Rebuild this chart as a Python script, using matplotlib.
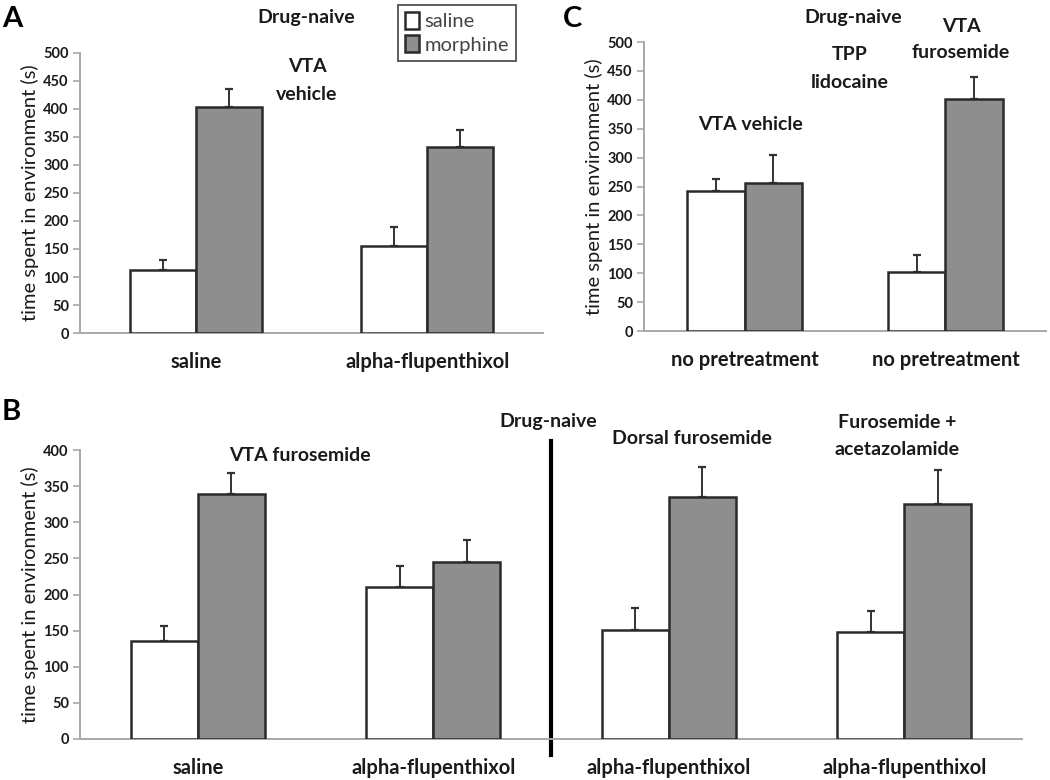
import matplotlib
matplotlib.use('Agg')
import matplotlib.pyplot as plt
import numpy as np

plt.rcParams['font.family'] = ['Lato', 'DejaVu Sans']

# panel A
a_cats = ['saline', 'alpha-flupenthixol']
a_saline = [113, 155]
a_saline_err = [17, 34]
a_morph = [403, 332]
a_morph_err = [32, 31]

# panel C
c_cats = ['no pretreatment', 'no pretreatment']
c_saline = [242, 102]
c_saline_err = [21, 30]
c_morph = [256, 402]
c_morph_err = [48, 37]

# panel B
b_cats = ['saline', 'alpha-flupenthixol', 'alpha-flupenthixol', 'alpha-flupenthixol']
b_saline = [135, 211, 151, 148]
b_saline_err = [22, 29, 31, 29]
b_morph = [339, 245, 335, 325]
b_morph_err = [29, 31, 41, 48]

W, H = 1050, 780
GREY = '#8e8e8e'
AXC = '#a8a8a8'


def px(x, y):
    return x / W, 1 - y / H


def box(l, t, r, b):
    return [l / W, 1 - b / H, (r - l) / W, (b - t) / H]


def draw_panel(ax, cats, sal, sal_err, mor, mor_err, ymax, step):
    x = np.arange(len(cats))
    bw = 0.285
    b1 = ax.bar(x - bw / 2, sal, bw, color='white', edgecolor='#2a2a2a',
                linewidth=1.8, label='saline', zorder=3)
    b2 = ax.bar(x + bw / 2, mor, bw, color=GREY, edgecolor='#2a2a2a',
                linewidth=1.8, label='morphine', zorder=3)
    ax.errorbar(x - bw / 2, sal, yerr=[np.zeros(len(sal)), sal_err], fmt='none',
                ecolor='#333333', elinewidth=1.4, capsize=3, capthick=1.6, zorder=2)
    ax.errorbar(x + bw / 2, mor, yerr=[np.zeros(len(mor)), mor_err], fmt='none',
                ecolor='#333333', elinewidth=1.4, capsize=3, capthick=1.6, zorder=2)

    ax.set_xlim(-0.5, len(cats) - 0.5)
    ax.set_ylim(0, ymax)
    ax.set_yticks(np.arange(0, ymax + 1, step))
    ax.set_xticks(x)
    ax.set_xticklabels(cats, fontsize=14.5, fontweight='bold', color='#1a1a1a')
    ax.tick_params(axis='x', length=0, pad=14)
    ax.tick_params(axis='y', length=5, width=1.2, color=AXC, pad=3,
                   labelsize=10.5, labelcolor='#1a1a1a')
    for t in ax.get_yticklabels():
        t.set_fontweight('bold')
    for s in ['top', 'right']:
        ax.spines[s].set_visible(False)
    for s in ['left', 'bottom']:
        ax.spines[s].set_color(AXC)
        ax.spines[s].set_linewidth(1.4)
    ax.set_ylabel('time spent in environment (s)', fontsize=14.5, color='#1a1a1a',
                  labelpad=3)
    return b1, b2


fig = plt.figure(figsize=(W / 100, H / 100), dpi=100)

ax_a = fig.add_axes(box(80, 53, 543, 333))
ax_c = fig.add_axes(box(644, 42, 1046, 331))
ax_b = fig.add_axes(box(80, 450, 1022, 739))

h1, h2 = draw_panel(ax_a, a_cats, a_saline, a_saline_err, a_morph, a_morph_err, 500, 50)
draw_panel(ax_c, c_cats, c_saline, c_saline_err, c_morph, c_morph_err, 500, 50)
draw_panel(ax_b, b_cats, b_saline, b_saline_err, b_morph, b_morph_err, 400, 50)

# separator in panel B
ax_b.plot([1.5, 1.5], [-22, 413], color='black', linewidth=3, clip_on=False)

# panel letters
fig.text(*px(2, 19), 'A', fontsize=21, fontweight='bold', va='center')
fig.text(*px(2, 412), 'B', fontsize=21, fontweight='bold', va='center')
fig.text(*px(563, 19), 'C', fontsize=21, fontweight='bold', va='center')

ann = dict(fontsize=14, fontweight='bold', ha='center', va='center', color='#1a1a1a')
fig.text(*px(306, 18), 'Drug-naive', **ann)
fig.text(*px(307, 67), 'VTA', **ann)
fig.text(*px(307, 95), 'vehicle', **ann)

fig.text(*px(853, 17), 'Drug-naive', **ann)
fig.text(*px(850, 55), 'TPP', **ann)
fig.text(*px(850, 82), 'lidocaine', **ann)
fig.text(*px(961, 26), 'VTA', **ann)
fig.text(*px(961, 53), 'furosemide', **ann)
fig.text(*px(750, 125), 'VTA vehicle', **ann)

fig.text(*px(548, 422), 'Drug-naive', **ann)
fig.text(*px(300, 455), 'VTA furosemide', **ann)
fig.text(*px(692, 438), 'Dorsal furosemide', **ann)
fig.text(*px(897, 422), 'Furosemide +', **ann)
fig.text(*px(897, 450), 'acetazolamide', **ann)

leg = fig.legend([h1, h2], ['saline', 'morphine'], loc='upper left',
                 bbox_to_anchor=px(398, 5), fontsize=14.5, frameon=True,
                 fancybox=False, edgecolor='#333333', handlelength=0.7,
                 handleheight=0.9, handletextpad=0.25, borderpad=0.35,
                 labelspacing=0.25, borderaxespad=0)
leg.get_frame().set_linewidth(1.4)
for t in leg.get_texts():
    t.set_color('#444444')

fig.savefig('out.png', dpi=100, facecolor='white')
